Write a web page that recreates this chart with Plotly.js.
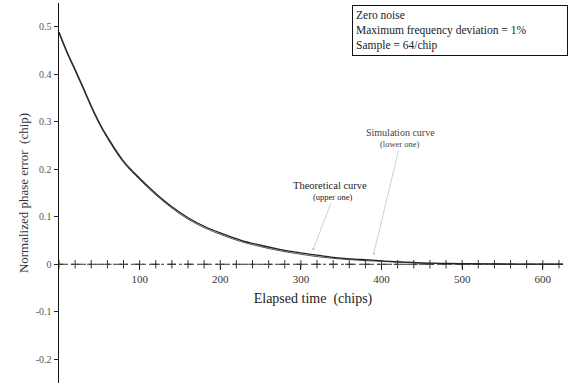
<!DOCTYPE html>
<html>
<head>
<meta charset="utf-8">
<script src="https://cdn.plot.ly/plotly-3.0.1.min.js"></script>
<style>html,body{margin:0;padding:0;background:#fff;}#chart{width:576px;height:383px;}</style>
</head>
<body>
<div id="chart"></div>
<script>
// Elapsed time (chips)
const timeChips = [0,10,20,30,40,50,60,80,100,120,140,160,180,200,225,250,275,300,325,350,375,400,425,450,475,500,550,600,625];
// Theoretical curve (upper one)
const theoretical = [0.489,0.447,0.410,0.372,0.333,0.298,0.268,0.217,0.181,0.149,0.121,0.098,0.080,0.066,0.051,0.040,0.031,0.024,0.018,0.013,0.010,0.007,0.005,0.003,0.002,0.001,0.0005,0.0002,0.0001];
// Simulation curve (lower one)
const simulation = [0.486,0.444,0.407,0.369,0.330,0.295,0.265,0.214,0.178,0.146,0.118,0.095,0.077,0.063,0.048,0.037,0.028,0.021,0.015,0.011,0.008,0.006,0.004,0.002,0.001,0.0005,0.0,0.0,0.0];
// Zero-noise reference line markers
const zeroX = [0,20,40,60,80,100,120,140,160,180,200,220,240,260,280,300,320,340,360,380,400,420,440,460,480,500,520,540,560,580,600,620];
const zeroY = zeroX.map(() => 0);
// Tick labels
const xTickVals = [100,200,300,400,500,600];
const xTickText = ["100","200","300","400","500","600"];
const yTickVals = [0.5,0.4,0.3,0.2,0.1,0,-0.1,-0.2];
const yTickText = ["0.5","0.4","0.3","0.2","0.1","0","-0.1","-0.2"];

const serif = "Liberation Serif, Times New Roman, serif";

const traces = [
  {x: zeroX, y: zeroY, mode: "lines+markers", type: "scatter",
   line: {color: "#333", width: 1, dash: "dashdot"},
   marker: {symbol: "cross-thin-open", size: 6, line: {color: "#222", width: 1}},
   hoverinfo: "skip"},
  {x: timeChips, y: simulation, mode: "lines", type: "scatter",
   line: {color: "#555", width: 1, shape: "spline"}, hoverinfo: "skip"},
  {x: timeChips, y: theoretical, mode: "lines", type: "scatter",
   line: {color: "#222", width: 1.3, shape: "spline"}, hoverinfo: "skip"}
];

const layout = {
  width: 576, height: 383,
  margin: {l: 59, r: 9, t: 3, b: 0},
  paper_bgcolor: "#fff", plot_bgcolor: "#fff",
  showlegend: false,
  font: {family: serif, color: "#222"},
  xaxis: {
    range: [0, 630], anchor: "free", position: 0.3125,
    showgrid: false, zeroline: false, showline: false,
    tickmode: "array", tickvals: xTickVals, ticktext: xTickText,
    ticks: "outside", ticklen: 5, tickcolor: "#222", tickwidth: 1,
    tickfont: {family: serif, size: 11, color: "#333"},
    title: {text: "Elapsed time  (chips)", font: {family: serif, size: 14, color: "#222"}, standoff: 8},
    automargin: false
  },
  yaxis: {
    range: [-0.25, 0.55],
    showgrid: false, zeroline: false, showline: true, linecolor: "#111", linewidth: 1.5,
    tickmode: "array", tickvals: yTickVals, ticktext: yTickText,
    ticks: "outside", ticklen: 4, tickcolor: "#222",
    tickfont: {family: serif, size: 10, color: "#555"},
    title: {text: "Normalized phase error  (chip)", font: {family: serif, size: 13, color: "#333"}, standoff: 4},
    automargin: false
  },
  annotations: [
    {xref: "paper", yref: "paper", x: 1.002, y: 0.995, xanchor: "right", yanchor: "top",
     text: "Zero noise<br>Maximum frequency deviation = 1%<br>Sample = 64/chip",
     align: "left", showarrow: false, bordercolor: "#111", borderwidth: 1, borderpad: 3,
     width: 208, font: {family: serif, size: 11.5, color: "#222"}, bgcolor: "#fff"},
    {xref: "x", yref: "y", x: 336, y: 0.166, text: "Theoretical curve", showarrow: false,
     font: {family: serif, size: 10.5, color: "#222"}},
    {xref: "x", yref: "y", x: 315, y: 0.03, axref: "x", ayref: "y", ax: 340, ay: 0.141,
     text: "(upper one)", showarrow: true, arrowhead: 1, arrowsize: 0.8, arrowwidth: 0.7, arrowcolor: "#bbb",
     font: {family: serif, size: 8.5, color: "#222"}},
    {xref: "x", yref: "y", x: 423, y: 0.278, text: "Simulation curve", showarrow: false,
     font: {family: serif, size: 10, color: "#444"}},
    {xref: "x", yref: "y", x: 390, y: 0.02, axref: "x", ayref: "y", ax: 423, ay: 0.253,
     text: "(lower one)", showarrow: true, arrowhead: 1, arrowsize: 0.8, arrowwidth: 0.7, arrowcolor: "#bbb",
     font: {family: serif, size: 8.5, color: "#444"}}
  ]
};

Plotly.newPlot("chart", traces, layout, {staticPlot: true, displayModeBar: false});
</script>
</body>
</html>
